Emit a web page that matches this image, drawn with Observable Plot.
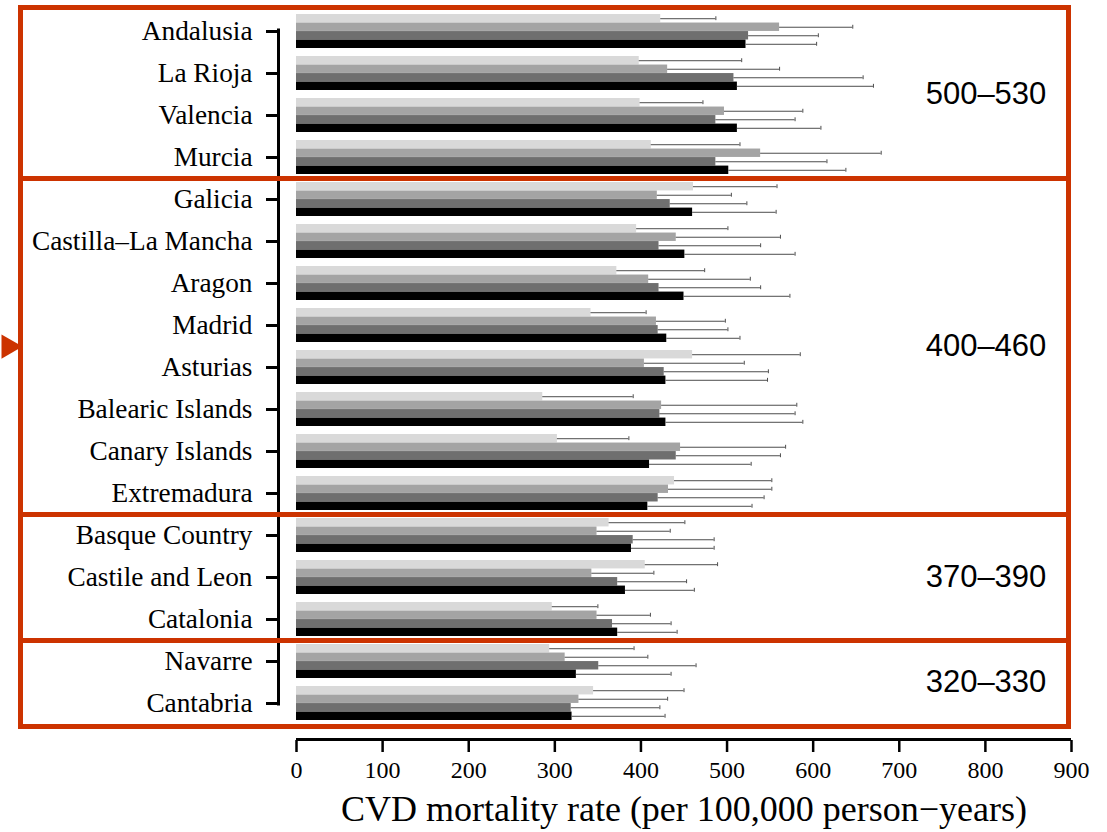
<!DOCTYPE html>
<html>
<head>
<meta charset="utf-8">
<script src="https://cdn.jsdelivr.net/npm/d3@7"></script>
<script src="https://cdn.jsdelivr.net/npm/@observablehq/plot@0.6"></script>
<style>
  html, body { margin: 0; padding: 0; background: white; }
  #chart svg { display: block; }
</style>
</head>
<body>
<div id="chart"></div>
<script>
const regions = ["Andalusia","La Rioja","Valencia","Murcia","Galicia","Castilla–La Mancha","Aragon","Madrid","Asturias","Balearic Islands","Canary Islands","Extremadura","Basque Country","Castile and Leon","Catalonia","Navarre","Cantabria"];
const seriesNames = ["Series 1","Series 2","Series 3","Series 4"];
const seriesColors = ["#d9d9d9","#a4a4a4","#6f6f6f","#000000"];

const s1 = [423,398,399,412,461,395,372,342,460,286,303,439,363,405,297,294,345];
const s1Upper = [487,517,472,515,558,501,474,406,585,391,386,552,451,489,350,392,450];
const s2 = [561,431,497,539,419,441,409,418,404,424,446,432,349,343,349,312,328];
const s2Upper = [646,561,588,679,505,562,527,498,520,581,568,552,434,415,411,408,431];
const s3 = [525,508,487,487,434,421,421,420,427,422,441,420,391,373,367,351,319];
const s3Upper = [606,658,579,616,523,539,539,501,548,579,562,543,485,453,435,464,422];
const s4 = [522,512,512,502,460,451,450,430,429,429,410,408,389,382,373,325,320];
const s4Upper = [604,670,609,638,557,579,573,515,547,588,528,529,485,462,442,435,428];

const xTicks = [0,100,200,300,400,500,600,700,800,900];
const xLabel = "CVD mortality rate (per 100,000 person\u2212years)";
const groupLabels = ["500–530","400–460","370–390","320–330"];
const groupBetween = ["La Rioja","Madrid","Navarre"];   // label sits between this and the next region
const groupOn = ["Castile and Leon"];
const dividerAfter = ["Murcia","Extremadura","Catalonia"];
const arrowAfter = ["Madrid"];

const values = [s1, s2, s3, s4];
const uppers = [s1Upper, s2Upper, s3Upper, s4Upper];
const table = seriesNames.map((s, i) => regions.map((r, j) => ({region: r, series: s, value: values[i][j], upper: uppers[i][j]})));

const W = 1107, H = 832;
const mL = 296, mR = 36, mT = 9, mB = 107;
const pad = 0.19;
const step = (H - mT - mB) / regions.length;
const bw = step * (1 - pad);
const sub = bw / 4;
const red = "#cc3300";
const errColor = "#4d4d4d";
const serif = "'Liberation Serif', 'Times New Roman', Times, serif";
const sans = "'Liberation Sans', Arial, Helvetica, sans-serif";

const marks = [];
table.forEach((rows, i) => {
  marks.push(Plot.barX(rows, {y: "region", x: "value", fill: seriesColors[i], insetTop: i * sub, insetBottom: (3 - i) * sub}));
});
table.forEach((rows, i) => {
  marks.push(Plot.ruleY(rows, {y: "region", x1: "value", x2: "upper", stroke: errColor, strokeWidth: 1, dy: -bw / 2 + sub * (i + 0.5)}));
  marks.push(Plot.tickX(rows, {y: "region", x: "upper", stroke: errColor, strokeWidth: 1, insetTop: i * sub + sub / 2 - 2, insetBottom: (3 - i) * sub + sub / 2 - 2}));
});

// axes
marks.push(Plot.axisY({dx: -18, tickSize: 12, tickPadding: 14, fontSize: 27.3, strokeWidth: 3, label: null, fill: "black", stroke: "black"}));
marks.push(Plot.ruleX([0], {dx: -18, insetTop: step / 2 - 1.5, insetBottom: step / 2 - 1.5, stroke: "black", strokeWidth: 3}));
marks.push(Plot.axisX({ticks: xTicks, dy: 15, tickSize: 12, tickPadding: 8, fontSize: 24, strokeWidth: 2.5, label: null, fill: "black", stroke: "black"}));
marks.push(Plot.ruleY([regions[regions.length - 1]], {y: d => d, dy: step / 2 + 15, x1: 0, x2: 900, stroke: "black", strokeWidth: 3}));
marks.push(Plot.text([xLabel], {text: d => d, frameAnchor: "bottom", dy: 95, fontSize: 36, fontFamily: serif, fill: "black"}));

// red group boxes
marks.push(Plot.frame({stroke: red, strokeWidth: 5, insetLeft: 20 - mL, insetRight: 3, insetTop: -2, insetBottom: -1}));
marks.push(Plot.ruleY(dividerAfter, {y: d => d, dy: step / 2, stroke: red, strokeWidth: 5, insetLeft: 20 - mL, insetRight: 3}));
marks.push(Plot.dot(arrowAfter, {y: d => d, dy: step / 2, frameAnchor: "left", dx: 8 - mL, symbol: "triangle", rotate: 90, r: 9, fill: red, stroke: "none"}));

// group range labels
marks.push(Plot.text(groupBetween, {y: d => d, text: (d, i) => [groupLabels[0], groupLabels[1], groupLabels[3]][i], dy: step / 2, frameAnchor: "right", dx: -85.5, textAnchor: "middle", fontSize: 31, fontFamily: sans, fill: "black"}));
marks.push(Plot.text(groupOn, {y: d => d, text: () => groupLabels[2], frameAnchor: "right", dx: -85.5, textAnchor: "middle", fontSize: 31, fontFamily: sans, fill: "black"}));

const chart = Plot.plot({
  width: W, height: H,
  marginLeft: mL, marginRight: mR, marginTop: mT, marginBottom: mB,
  style: {fontFamily: serif, background: "white", color: "black", overflow: "visible"},
  x: {domain: [0, 900], axis: null},
  y: {domain: regions, paddingInner: pad, paddingOuter: pad / 2, axis: null},
  marks
});
document.getElementById("chart").appendChild(chart);
</script>
</body>
</html>
